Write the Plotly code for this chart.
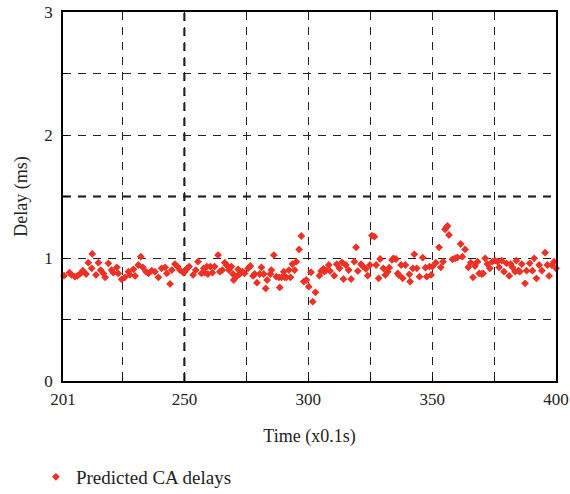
import plotly.graph_objects as go

time = [
    201.4, 203.6, 204.5, 205.8, 206.8, 208.1, 209.0, 210.3, 211.2, 212.6, 212.8, 214.3, 215.3,
    216.2, 217.3, 218.0, 219.3, 220.6, 221.3, 222.7, 223.3, 224.7, 226.0, 227.4, 228.0, 229.4,
    230.1, 231.4, 232.4, 233.2, 234.5, 235.5, 236.8, 238.1, 239.5, 240.8, 242.2, 242.9, 244.2,
    244.9, 246.2, 247.2, 248.2, 249.6,
    250.1, 251.1, 251.9, 253.5, 254.6, 255.5, 256.9, 257.8, 258.2, 259.1, 259.5, 260.5, 261.3,
    262.2, 263.6, 264.3, 265.3, 266.3, 267.0, 268.0, 269.0, 269.6, 269.9, 271.0, 271.7, 272.3,
    273.4, 274.3, 275.7, 276.6, 277.7, 278.4, 279.3, 280.4, 281.1, 282.0, 282.8, 283.4, 284.7,
    285.1, 286.1, 287.1, 288.2, 288.5, 289.2, 290.1, 290.5, 291.2, 292.2, 292.8, 293.6, 294.5,
    295.2, 296.3, 297.2, 298.2, 299.2,
    300.2, 301.1, 301.8, 302.9, 304.5, 305.2, 306.1, 306.5, 307.2, 308.3, 308.8, 310.5, 311.5,
    312.6, 313.6, 314.2, 315.2, 316.3, 317.3, 318.6, 319.3, 320.0, 321.3, 322.2, 323.3, 324.0,
    324.9, 325.7, 326.7, 327.4, 328.4, 329.0, 330.3, 331.1, 332.1, 332.7, 333.8, 334.4, 335.4,
    336.1, 336.5, 337.5, 338.1, 339.2, 340.8, 341.1, 342.2, 342.8, 343.8, 344.9, 346.2, 347.3,
    347.8, 348.9,
    349.6, 350.1, 351.5, 352.8, 353.5, 354.4, 355.2, 355.8, 356.2, 356.8, 358.2, 359.3, 360.2,
    361.5, 362.2, 363.3, 364.6, 365.6, 366.5, 367.3, 368.3, 369.0, 370.0, 370.6, 371.4, 372.3,
    373.3, 374.3, 375.4, 376.4, 377.0, 378.1, 379.0, 380.0, 381.1, 381.7, 382.4, 383.5, 384.0,
    384.8, 385.4, 386.2, 387.5, 388.1, 389.4, 390.5, 391.2, 392.1, 393.2, 394.3, 395.6, 396.5,
    397.2, 398.3, 399.2, 400.0,
]

delay = [
    0.856, 0.881, 0.862, 0.848, 0.854, 0.875, 0.897, 0.870, 0.962, 0.916, 1.033, 0.862, 0.962,
    0.902, 0.875, 0.843, 0.957, 0.902, 0.881, 0.924, 0.875, 0.827, 0.843, 0.889, 0.862, 0.908,
    0.854, 0.943, 1.011, 0.924, 0.889, 0.875, 0.897, 0.889, 0.843, 0.916, 0.924, 0.875, 0.789,
    0.902, 0.951, 0.930, 0.902, 0.881,
    0.889, 0.916, 0.930, 0.862, 0.902, 0.970, 0.875, 0.916, 0.881, 0.930, 0.870, 0.930, 0.881,
    0.930, 1.024, 0.889, 0.902, 0.962, 0.943, 0.902, 0.930, 0.870, 0.821, 0.848, 0.908, 0.870,
    0.889, 0.875, 0.916, 0.935, 0.854, 0.870, 0.799, 0.870, 0.924, 0.870, 0.753, 0.821, 0.870,
    0.902, 1.024, 0.848, 0.843, 0.761, 0.843, 0.889, 0.843, 0.843, 0.902, 0.843, 0.951, 0.902,
    0.970, 1.070, 1.179, 0.808, 0.821,
    0.767, 0.884, 0.645, 0.721, 0.856, 0.894, 0.911, 0.889, 0.902, 0.943, 0.894, 0.856, 0.949,
    0.916, 0.965, 0.829, 0.943, 0.902, 0.829, 0.970, 1.087, 0.894, 0.949, 0.930, 0.911, 0.856,
    0.943, 1.182, 1.173, 0.943, 0.835, 0.992, 0.916, 0.862, 0.889, 0.921, 0.984, 0.997, 0.992,
    0.875, 0.862, 0.943, 0.835, 0.943, 0.867, 0.808, 0.916, 1.030, 0.916, 0.848, 1.003, 0.921,
    0.848, 0.930,
    0.862, 0.930, 0.962, 1.087, 0.924, 0.970, 1.233, 1.249, 1.260, 1.187, 0.989, 0.997, 1.005,
    1.114, 1.011, 1.070, 0.924, 0.962, 0.843, 0.935, 0.970, 0.875, 0.870, 0.875, 0.997, 0.951,
    0.916, 0.970, 0.978, 0.970, 0.924, 0.978, 0.889, 0.957, 0.854, 0.951, 0.924, 0.889, 0.978,
    0.897, 0.889, 0.951, 0.794, 0.897, 0.957, 0.897, 0.997, 0.835, 0.943, 0.897, 1.043, 0.943,
    0.854, 0.943, 0.970, 0.916,
]

x_ticks = [201, 225, 250, 275, 300, 325, 350, 375, 400]
x_labels = ["201", "", "250", "", "300", "", "350", "", "400"]
y_ticks = [0, 0.5, 1, 1.5, 2, 2.5, 3]
y_labels = ["0", "", "1", "", "2", "", "3"]

FONT = "Liberation Serif"
RED = "#ee3124"
TXT = "#222222"

fig = go.Figure()
fig.add_trace(go.Scatter(
    x=time, y=delay, mode="markers", name="Predicted CA delays",
    marker=dict(symbol="diamond", size=6, color=RED, line=dict(width=0)),
    cliponaxis=False,
))

# emphasised dashed lines seen in the reference
fig.add_shape(type="line", x0=250, x1=250, y0=0, y1=3, xref="x", yref="y",
              line=dict(color="black", width=2, dash="8px,7px"), layer="below")
fig.add_shape(type="line", x0=201, x1=400, y0=1.5, y1=1.5, xref="x", yref="y",
              line=dict(color="black", width=2, dash="8px,7px"), layer="below")

axis_common = dict(
    showline=True, linecolor="black", linewidth=1.5, mirror=True,
    ticks="inside", ticklen=5, tickcolor="black", tickwidth=1,
    showgrid=True, gridcolor="#222222", gridwidth=1, griddash="8px,7px",
    zeroline=False,
    tickfont=dict(family=FONT, size=17, color=TXT),
)

fig.update_layout(
    width=570, height=494,
    margin=dict(l=63, r=14, t=12, b=113, autoexpand=False),
    paper_bgcolor="white", plot_bgcolor="white",
    font=dict(family=FONT, size=16, color=TXT),
    showlegend=True,
    legend=dict(x=-0.055, y=-0.26, xanchor="left", yanchor="middle",
                orientation="h", font=dict(family=FONT, size=19, color=TXT),
                bgcolor="rgba(0,0,0,0)"),
    xaxis=dict(axis_common, range=[201, 400], tickvals=x_ticks, ticktext=x_labels,
               ticklabelstandoff=2,
               title=dict(text="Time (x0.1s)", standoff=21,
                          font=dict(family=FONT, size=18, color=TXT))),
    yaxis=dict(axis_common, range=[0, 3], tickvals=y_ticks, ticktext=y_labels,
               ticklabelstandoff=5,
               title=dict(text="Delay (ms)", standoff=12,
                          font=dict(family=FONT, size=18, color=TXT))),
)

fig.write_html(
    "out.html",
    config={"displayModeBar": False},
    post_script="document.body.style.margin='0';document.body.style.overflow='hidden';",
)
